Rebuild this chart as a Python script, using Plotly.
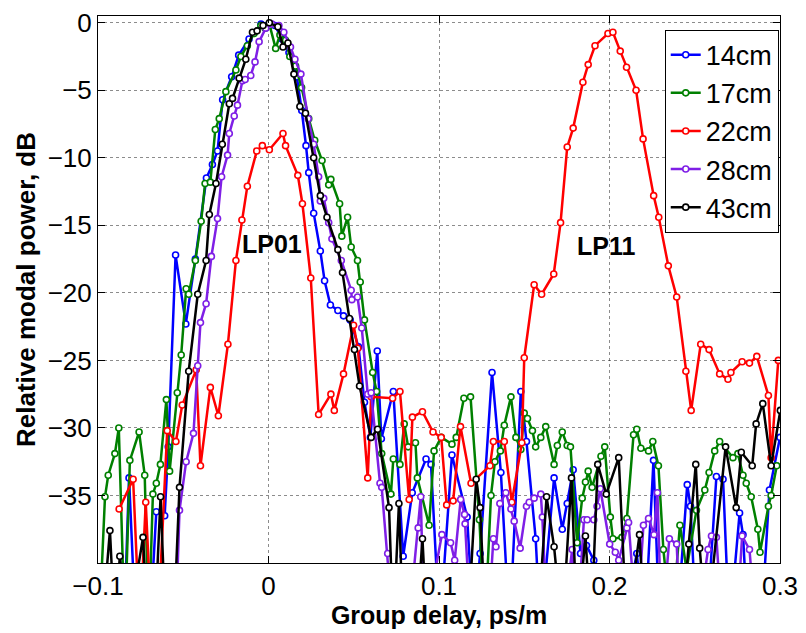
import plotly.graph_objects as go

# ---------------- data (group delay in ps/m, relative modal power in dB) ----------------
x_14 = [-0.0848, -0.0818, -0.0778, -0.0697, -0.0658, -0.0609, -0.0588, -0.0545, -0.0485, -0.0429,
        -0.0364, -0.0329, -0.0299, -0.0269, -0.0216, -0.0175, -0.0114, -0.0044, -0.0009, 0.0038,
        0.0079, 0.0120, 0.0166, 0.0195, 0.0220, 0.0236, 0.0265, 0.0304, 0.0329, 0.0363,
        0.0407, 0.0440, 0.0479, 0.0528, 0.0563, 0.0598, 0.0638, 0.0662, 0.0732, 0.0790,
        0.0843, 0.0924, 0.0953, 0.1004, 0.1076, 0.1165, 0.1204, 0.1241, 0.1311, 0.1363,
        0.1414, 0.1480, 0.1513, 0.1567, 0.1595, 0.1675, 0.1723, 0.1752, 0.1787, 0.1830,
        0.1865, 0.1908, 0.1956, 0.2073, 0.2160, 0.2207, 0.2258, 0.2294, 0.2394, 0.2456,
        0.2475, 0.2510, 0.2569, 0.2627, 0.2666, 0.2703, 0.2763, 0.2783, 0.2813, 0.2889,
        0.2938, 0.3000]
y_14 = [-45, -33.7, -45, -45, -36.2, -36.5, -31.4, -17.2, -22.3, -17.5,
        -11.5, -10.5, -9.5, -5.7, -4.0, -2.4, -1.2, -0.1, -0.2, -0.2,
        -1.2, -2.2, -4.0, -6.5, -9.1, -11.1, -14.1, -16.9, -19.1, -20.9,
        -21.3, -21.7, -22.0, -24.0, -28.1, -30.7, -24.3, -30.8, -27.3, -39.5,
        -34.8, -32.3, -32.7, -45, -32.0, -36.6, -45, -39.3, -25.9, -33.3,
        -45, -27.3, -31.0, -38.2, -45, -33.7, -37.5, -35.6, -33.1, -39.3,
        -38.7, -39.8, -45, -45, -39.3, -45, -32.4, -45, -45, -34.2,
        -35.8, -45, -45, -33.6, -33.8, -45, -36.3, -37.9, -45, -45,
        -34.6, -30.7]

x_17 = [-0.0994, -0.0959, -0.0940, -0.0901, -0.0878, -0.0843, -0.0813, -0.0759, -0.0726, -0.0703,
        -0.0678, -0.0658, -0.0634, -0.0599, -0.0580, -0.0535, -0.0512, -0.0483, -0.0468, -0.0429,
        -0.0395, -0.0372, -0.0341, -0.0312, -0.0289, -0.0250, -0.0191, -0.0162, -0.0124, -0.0085,
        -0.0045, -0.0020, 0.0007, 0.0042, 0.0067, 0.0100, 0.0125, 0.0159, 0.0194, 0.0236,
        0.0271, 0.0314, 0.0353, 0.0366, 0.0417, 0.0430, 0.0464, 0.0485, 0.0522, 0.0538,
        0.0563, 0.0611, 0.0634, 0.0664, 0.0718, 0.0732, 0.0771, 0.0796, 0.0819, 0.0862,
        0.0873, 0.0942, 0.0971, 0.1013, 0.1076, 0.1101, 0.1146, 0.1185, 0.1237, 0.1268,
        0.1305, 0.1328, 0.1360, 0.1383, 0.1422, 0.1451, 0.1480, 0.1500, 0.1519, 0.1548,
        0.1567, 0.1597, 0.1626, 0.1675, 0.1694, 0.1723, 0.1752, 0.1771, 0.1810, 0.1840,
        0.1859, 0.1875, 0.1898, 0.1950, 0.1972, 0.2005, 0.2020, 0.2073, 0.2102, 0.2141,
        0.2160, 0.2184, 0.2229, 0.2254, 0.2287, 0.2316, 0.2364, 0.2413, 0.2452, 0.2510,
        0.2559, 0.2584, 0.2617, 0.2646, 0.2724, 0.2753, 0.2783, 0.2802, 0.2831, 0.2870,
        0.2883, 0.2932, 0.2948, 0.2981]
y_17 = [-45, -35.1, -33.5, -31.9, -30.0, -45, -32.4, -30.3, -33.5, -45,
        -34.9, -34.1, -32.7, -27.9, -33.2, -27.4, -24.6, -19.7, -20.1, -17.6,
        -14.7, -11.9, -11.8, -7.9, -7.1, -5.1, -3.5, -2.5, -1.7, -0.8,
        -0.2, -0.4, -0.2, -1.9, -0.9, -1.3, -2.5, -3.2, -4.8, -7.1,
        -8.7, -10.2, -12.0, -11.6, -13.4, -15.8, -14.4, -16.6, -17.6, -19.2,
        -22.0, -25.9, -27.3, -31.9, -34.9, -32.3, -32.7, -29.7, -31.4, -31.1,
        -33.7, -37.2, -31.7, -30.7, -31.2, -30.7, -27.8, -27.7, -36.8, -45,
        -35.0, -32.5, -31.7, -29.8, -27.7, -30.7, -31.6, -28.9, -29.3, -30.2,
        -31.4, -30.7, -29.9, -32.7, -31.3, -30.3, -31.3, -31.4, -38.5, -35.2,
        -34.0, -33.2, -34.4, -32.1, -31.4, -36.6, -38.2, -38.1, -36.7, -30.5,
        -30.1, -31.5, -31.7, -31.0, -32.8, -39.0, -45, -37.2, -40.5, -36.1,
        -34.6, -33.3, -31.7, -31.0, -32.2, -31.9, -33.5, -34.1, -35.1, -37.5,
        -39.2, -35.8, -35.0, -32.8]

x_22 = [-0.0876, -0.0794, -0.0755, -0.0720, -0.0685, -0.0650, -0.0594, -0.0543, -0.0506, -0.0424,
        -0.0399, -0.0341, -0.0294, -0.0238, -0.0191, -0.0156, -0.0124, -0.0069, -0.0036, 0.0005,
        0.0085, 0.0100, 0.0172, 0.0199, 0.0248, 0.0294, 0.0366, 0.0386, 0.0440, 0.0499,
        0.0524, 0.0582, 0.0602, 0.0728, 0.0771, 0.0825, 0.0844, 0.0903, 0.0965, 0.1013,
        0.1045, 0.1083, 0.1126, 0.1188, 0.1299, 0.1319, 0.1383, 0.1427, 0.1486, 0.1500,
        0.1558, 0.1602, 0.1673, 0.1713, 0.1752, 0.1787, 0.1844, 0.1875, 0.1915, 0.1991,
        0.2020, 0.2063, 0.2100, 0.2156, 0.2197, 0.2259, 0.2289, 0.2345, 0.2394, 0.2448,
        0.2479, 0.2535, 0.2584, 0.2646, 0.2695, 0.2712, 0.2778, 0.2821, 0.2864, 0.2932,
        0.2948, 0.2990]
y_22 = [-36.0, -33.8, -45, -35.5, -45, -45, -30.2, -31.0, -28.3, -25.7,
        -32.8, -27.0, -29.1, -23.8, -17.6, -14.6, -12.1, -9.5, -9.1, -9.4,
        -8.2, -9.1, -11.3, -13.4, -18.9, -29.0, -27.5, -28.7, -26.0, -22.4,
        -24.1, -33.7, -27.7, -27.8, -27.3, -35.3, -29.2, -28.8, -30.3, -30.7,
        -35.7, -35.4, -29.9, -34.1, -32.8, -31.0, -31.0, -35.5, -31.1, -24.8,
        -19.4, -20.1, -18.6, -14.8, -9.2, -7.8, -4.4, -3.1, -1.7, -0.8,
        -0.7, -2.1, -3.3, -5.0, -8.6, -12.8, -14.4, -18.0, -20.3, -25.8,
        -28.7, -23.8, -24.2, -26.0, -26.4, -25.9, -25.1, -25.2, -24.7, -27.6,
        -32.2, -25.0]

x_28 = [-0.0545, -0.0522, -0.0483, -0.0440, -0.0415, -0.0399, -0.0366, -0.0335, -0.0299, -0.0275,
        -0.0240, -0.0230, -0.0201, -0.0182, -0.0153, -0.0137, -0.0104, -0.0079, -0.0055, -0.0016,
        0.0020, 0.0061, 0.0090, 0.0129, 0.0155, 0.0190, 0.0233, 0.0265, 0.0294, 0.0304,
        0.0324, 0.0353, 0.0372, 0.0427, 0.0485, 0.0489, 0.0522, 0.0547, 0.0582, 0.0602,
        0.0654, 0.0664, 0.0699, 0.0732, 0.0819, 0.0878, 0.0893, 0.0913, 0.1017, 0.1068,
        0.1092, 0.1127, 0.1150, 0.1153, 0.1187, 0.1286, 0.1319, 0.1334, 0.1357, 0.1392,
        0.1422, 0.1441, 0.1476, 0.1513, 0.1529, 0.1558, 0.1597, 0.1606, 0.1636, 0.1723,
        0.1781, 0.1810, 0.1850, 0.1869, 0.1908, 0.1927, 0.1946, 0.2001, 0.2034, 0.2054,
        0.2102, 0.2112, 0.2160, 0.2199, 0.2229, 0.2261, 0.2281, 0.2306, 0.2351, 0.2394,
        0.2417, 0.2510, 0.2578, 0.2598, 0.2627, 0.2662, 0.2743, 0.2778, 0.2821, 0.2860,
        0.2948, 0.3000]
y_28 = [-45, -36.1, -32.5, -30.4, -25.4, -22.2, -20.8, -17.3, -14.5, -11.4,
        -9.8, -8.2, -6.9, -6.1, -4.3, -4.2, -3.9, -2.9, -1.4, -0.4,
        -0.1, -0.2, -0.7, -1.8, -2.7, -3.8, -7.1, -9.0, -11.4, -13.2,
        -13.0, -14.8, -16.0, -17.6, -19.8, -20.5, -20.3, -22.6, -27.5, -27.4,
        -34.1, -34.4, -39.3, -45, -45, -37.4, -35.1, -45, -37.9, -38.5,
        -39.8, -35.3, -36.4, -37.1, -45, -45, -38.2, -38.8, -35.6, -34.8,
        -36.0, -36.9, -38.9, -35.8, -35.5, -35.2, -34.9, -36.6, -45, -45,
        -39.0, -45, -36.8, -36.8, -36.8, -35.8, -34.5, -38.6, -39.2, -39.8,
        -37.4, -37.0, -45, -37.2, -36.7, -37.9, -34.8, -45, -38.2, -38.6,
        -45, -45, -39.0, -38.0, -38.1, -45, -45, -38.0, -39.0, -45,
        -45, -45]

x_43 = [-0.0978, -0.0930, -0.0901, -0.0872, -0.0825, -0.0736, -0.0708, -0.0668, -0.0633, -0.0603,
        -0.0557, -0.0522, -0.0468, -0.0415, -0.0366, -0.0347, -0.0308, -0.0271, -0.0230, -0.0211,
        -0.0172, -0.0133, -0.0094, -0.0067, -0.0032, 0.0005, 0.0055, 0.0085, 0.0114, 0.0149,
        0.0184, 0.0217, 0.0265, 0.0304, 0.0343, 0.0407, 0.0434, 0.0475, 0.0504, 0.0534,
        0.0602, 0.0640, 0.0707, 0.0732, 0.0765, 0.0790, 0.0866, 0.0903, 0.0930, 0.1169,
        0.1218, 0.1241, 0.1274, 0.1461, 0.1577, 0.1631, 0.1675, 0.1723, 0.1777, 0.1810,
        0.1859, 0.1892, 0.1931, 0.1981, 0.2054, 0.2102, 0.2176, 0.2207, 0.2423, 0.2465,
        0.2506, 0.2529, 0.2569, 0.2681, 0.2743, 0.2773, 0.2837, 0.2860, 0.2899, 0.2948,
        0.3002]
y_43 = [-45, -37.6, -45, -39.5, -45, -38.1, -45, -45, -35.1, -45,
        -45, -34.4, -25.8, -20.1, -17.6, -14.2, -11.9, -9.0, -6.0, -5.6,
        -4.1, -2.7, -0.7, -0.6, -0.2, 0.0, -0.3, -1.8, -1.5, -3.8,
        -6.2, -6.7, -10.0, -12.8, -14.4, -16.8, -18.5, -21.9, -24.2, -26.9,
        -30.7, -30.1, -35.9, -45, -35.6, -45, -45, -38.2, -45, -45,
        -33.8, -35.9, -45, -45, -45, -35.1, -38.8, -45, -33.7, -45,
        -38.0, -45, -32.7, -34.9, -32.2, -45, -37.9, -45, -45, -38.6,
        -32.7, -38.9, -45, -31.4, -35.9, -31.8, -32.8, -29.7, -28.2, -32.8,
        -28.7]

series_names = ["14cm", "17cm", "22cm", "28cm", "43cm"]
series_x = [x_14, x_17, x_22, x_28, x_43]
series_y = [y_14, y_17, y_22, y_28, y_43]
series_colors = ["#0000FF", "#008000", "#FF0000", "#7F1FE6", "#000000"]

x_tickvals = [-0.1, 0, 0.1, 0.2, 0.3]
x_ticktext = ["\u22120.1", "0", "0.1", "0.2", "0.3"]
y_tickvals = [-35, -30, -25, -20, -15, -10, -5, 0]
y_ticktext = ["\u221235", "\u221230", "\u221225", "\u221220", "\u221215", "\u221210", "\u22125", "0"]

mode_labels = ["LP01", "LP11"]
mode_label_x = [0.002, 0.198]
mode_label_y = [-16.4, -16.5]

# ---------------- figure ----------------
FONT = "Liberation Sans, Arial, Helvetica, sans-serif"
fig = go.Figure()
for i, (name, xs, ys, col) in enumerate(zip(series_names, series_x, series_y, series_colors)):
    fig.add_trace(go.Scatter(
        x=xs, y=ys, name=name, mode="lines+markers",
        line=dict(color=col, width=2.5),
        marker=dict(symbol="circle", size=6, color="white",
                    line=dict(color=col, width=1.6)),
        legendgroup=name,
    ))

for t, xv, yv in zip(mode_labels, mode_label_x, mode_label_y):
    fig.add_annotation(x=xv, y=yv, text="<b>%s</b>" % t, showarrow=False,
                       font=dict(family=FONT, size=25, color="black"))

axis_common = dict(
    showline=True, linecolor="black", linewidth=1, mirror="ticks",
    ticks="inside", ticklen=7, tickwidth=1, tickcolor="black",
    showgrid=True, gridcolor="rgba(0,0,0,0.45)", gridwidth=1, griddash="dot",
    zeroline=False, tickfont=dict(family=FONT, size=26, color="black"),
)

fig.update_xaxes(range=[-0.1, 0.3], tickvals=x_tickvals, ticktext=x_ticktext,
                 title=dict(text="<b>Group delay, ps/m</b>", standoff=6,
                            font=dict(family=FONT, size=25, color="black")),
                 **axis_common)
fig.update_yaxes(range=[-40, 0.5], tickvals=y_tickvals, ticktext=y_ticktext,
                 title=dict(text="<b>Relative modal power, dB</b>", standoff=4,
                            font=dict(family=FONT, size=26, color="black")),
                 **axis_common)

fig.update_layout(
    width=806, height=633,
    margin=dict(l=98, r=22, t=8, b=65),
    plot_bgcolor="white", paper_bgcolor="white",
    font=dict(family=FONT, color="black"),
    legend=dict(x=0.831, y=0.975, xanchor="left", yanchor="top",
                bgcolor="white", bordercolor="black", borderwidth=1,
                font=dict(family=FONT, size=27, color="black"),
                tracegroupgap=0, itemwidth=30),
    showlegend=True,
)

fig.write_html("out.html")
